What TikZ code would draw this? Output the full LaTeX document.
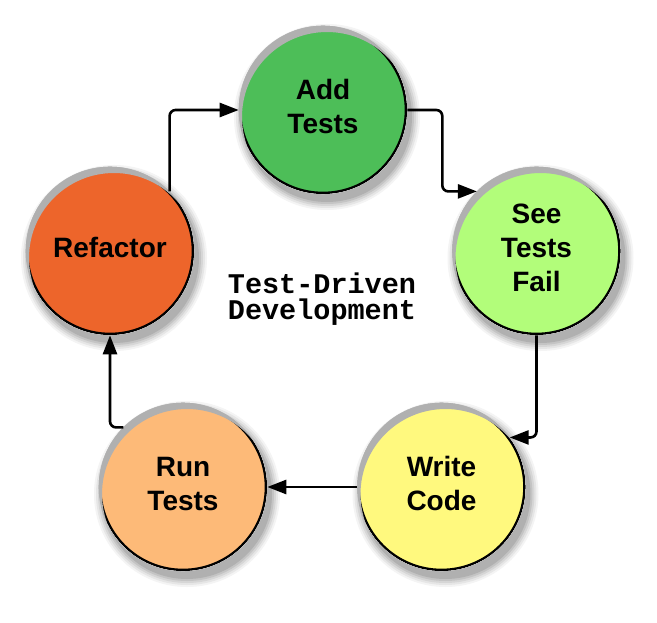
\documentclass[tikz,border=0pt]{standalone}
\usepackage{fontspec}
\setmainfont{Liberation Sans}
\newfontfamily\tddmono{Liberation Mono}
\usetikzlibrary{arrows.meta}
\definecolor{cAdd}{RGB}{77,190,88}
\definecolor{cSee}{RGB}{178,253,122}
\definecolor{cWrite}{RGB}{255,249,126}
\definecolor{cRun}{RGB}{253,186,120}
\definecolor{cRef}{RGB}{237,101,43}
\definecolor{sh1}{RGB}{244,244,244}
\definecolor{sh2}{RGB}{230,230,230}
\definecolor{sh3}{RGB}{214,214,214}
\definecolor{sh4}{RGB}{196,196,196}
\definecolor{sh5}{RGB}{176,176,176}
\newcommand{\stg}[1]{\raisebox{4pt}{\begin{tabular}{@{}c@{}}#1\end{tabular}}}
\newcommand{\softshade}[2]{%
  \fill[sh1,even odd rule] (#1+4,#2+7) circle (93pt) (#1,#2) circle (84.3pt);
  \fill[sh2,even odd rule] (#1+4,#2+7) circle (91pt) (#1,#2) circle (84.3pt);
  \fill[sh3,even odd rule] (#1+4,#2+7) circle (89pt) (#1,#2) circle (84.3pt);
  \fill[sh4,even odd rule] (#1+4,#2+7) circle (87pt) (#1,#2) circle (84.3pt);
  \fill[sh5,even odd rule] (#1+4,#2+7) circle (85pt) (#1,#2) circle (84.3pt);
}
\tikzset{
  stage/.style={circle,draw=black,line width=2.6pt,minimum size=166pt,inner sep=0pt,
    font=\fontsize{28}{34}\selectfont\bfseries},
  flow/.style={draw=black,line width=2.6pt,rounded corners=6pt,
    -{Triangle[length=19pt,width=14pt]}}
}
\begin{document}
\begin{tikzpicture}[x=1pt,y=-1pt]
\useasboundingbox (0,0) rectangle (657,623);
\fill[white] (0,0) rectangle (657,623);
\node[stage,fill=cAdd]   (add)   at (323,110) {\stg{Add\\Tests}};
\node[stage,fill=cSee]   (see)   at (536.5,251) {\stg{See\\Tests\\Fail}};
\node[stage,fill=cWrite] (write) at (441.5,487) {\stg{Write\\Code}};
\node[stage,fill=cRun]   (run)   at (183,487) {\stg{Run\\Tests}};
\node[stage,fill=cRef]   (ref)   at (110,251) {\stg{Refactor}};
\softshade{323}{110}
\softshade{536.5}{251}
\softshade{441.5}{487}
\softshade{183}{487}
\softshade{110}{251}
\node[font=\tddmono\fontsize{28.5}{26}\selectfont\bfseries,align=center,inner sep=0pt] (title) at (322,299) {Test-Driven\\Development};
\draw[flow] (ref.north east) |- (add.west);
\draw[flow] (add.east) -- ++(35,0) |- (see.north west);
\draw[flow] (see.south) |- (write.36);
\draw[flow] (write.west) -- (run.east);
\draw[flow] (run.north west) -| (ref.south);
\end{tikzpicture}
\end{document}
